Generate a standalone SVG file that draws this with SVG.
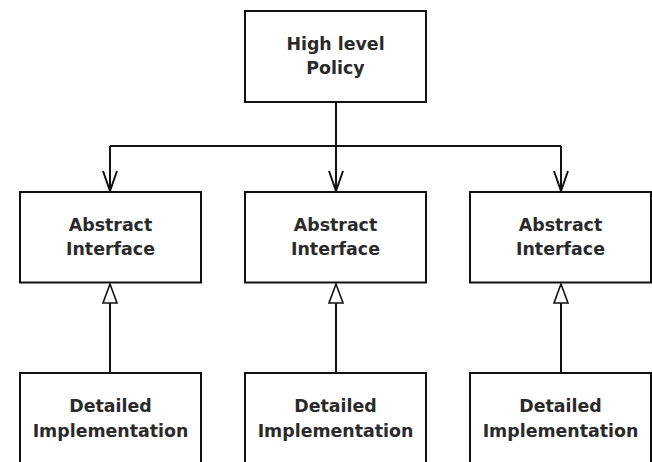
<svg xmlns="http://www.w3.org/2000/svg" width="652" height="462" viewBox="0 0 652 462">
<style>
.box{fill:#fff;stroke:#111;stroke-width:2}
.t{font-family:"DejaVu Sans",sans-serif;font-weight:bold;font-size:17.4px;fill:#2a2a2a;text-anchor:middle}
.c{fill:none;stroke:#111;stroke-width:2}
.hollow{fill:#fff;stroke:#111;stroke-width:1.6}
</style>
<rect width="652" height="462" fill="#fff"/>
<g id="connectors">
<path class="c" d="M336 102 V192 M110 146 H561 M110 146 V192 M561 146 V192"/>
<path class="c" stroke-width="1.6" d="M103 171 L110 191 L117 171 M329 171 L336 191 L343 171 M554 171 L561 191 L568 171"/>
<path class="c" d="M110 303 V373 M336 303 V373 M561 303 V373"/>
<path class="hollow" d="M110 284 L117 303 L103 303 Z M336 284 L343 303 L329 303 Z M561 284 L568 303 L554 303 Z"/>
</g>
<g id="policy"><rect class="box" x="245" y="11" width="181" height="91"/><text class="t" x="335.5" y="50">High level</text><text class="t" x="335.5" y="73.5">Policy</text></g>
<g id="abstract1"><rect class="box" x="20" y="192" width="181" height="90.5"/><text class="t" x="110.5" y="231">Abstract</text><text class="t" x="110.5" y="255">Interface</text></g>
<g id="abstract2"><rect class="box" x="245" y="192" width="181" height="90.5"/><text class="t" x="335.5" y="231">Abstract</text><text class="t" x="335.5" y="255">Interface</text></g>
<g id="abstract3"><rect class="box" x="470" y="192" width="181" height="90.5"/><text class="t" x="560.5" y="231">Abstract</text><text class="t" x="560.5" y="255">Interface</text></g>
<g id="detail1"><rect class="box" x="20" y="373" width="181" height="100"/><text class="t" x="110.5" y="412">Detailed</text><text class="t" x="110.5" y="436.5">Implementation</text></g>
<g id="detail2"><rect class="box" x="245" y="373" width="181" height="100"/><text class="t" x="335.5" y="412">Detailed</text><text class="t" x="335.5" y="436.5">Implementation</text></g>
<g id="detail3"><rect class="box" x="470" y="373" width="181" height="100"/><text class="t" x="560.5" y="412">Detailed</text><text class="t" x="560.5" y="436.5">Implementation</text></g>
</svg>
